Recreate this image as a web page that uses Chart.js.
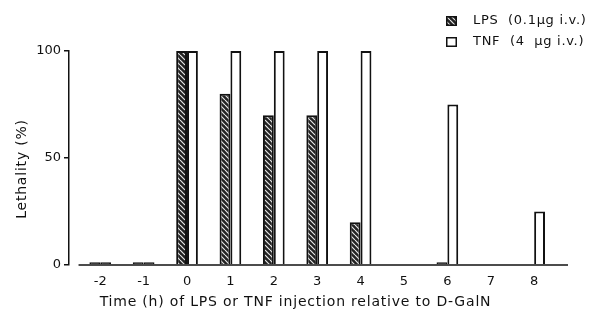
<!DOCTYPE html>
<html><head><meta charset="utf-8">
<script src="https://cdn.jsdelivr.net/npm/chart.js@4"></script>
<style>html,body{margin:0;padding:0;background:#fff}#wrap{width:590px;height:311px}</style>
</head><body><div id="wrap"><canvas id="c" width="590" height="311"></canvas></div>
<script>
const hours = [-2, -1, 0, 1, 2, 3, 4, 5, 6, 7, 8];
const lpsValues = [1.3, 1.3, 100, 80, 70, 70, 20, null, 1.3, null, null];
const tnfValues = [1.3, 1.3, 100, 100, 100, 100, 100, null, 75, null, 25];
const yTicks = [0, 50, 100];
const seriesLabels = ['LPS  (0.1µg i.v.)', 'TNF  (4  µg i.v.)'];
const xTitle = 'Time (h) of LPS or TNF injection relative to D-GalN';
const yTitle = 'Lethality (%)';

const FONT = '"DejaVu Sans", sans-serif';
const INK = '#111';
const canvas = document.getElementById('c');
const ctx = canvas.getContext('2d');

function makeHatch() {
  const s = 5;
  const t = document.createElement('canvas');
  t.width = s; t.height = s;
  const g = t.getContext('2d');
  g.fillStyle = '#222222';
  g.fillRect(0, 0, s, s);
  g.strokeStyle = '#e6e6e6';
  g.lineWidth = 1.2;
  for (const o of [-s, 0, s]) {
    g.beginPath(); g.moveTo(o, 0); g.lineTo(o + s, s); g.stroke();
  }
  return ctx.createPattern(t, 'repeat');
}
const fills = [makeHatch(), '#ffffff'];
// near-zero bars are printed as solid dark slivers on the baseline
const fillFor = i => c => (c.raw && c.raw.y !== null && c.raw.y < 2) ? INK : fills[i];

const deco = {
  id: 'deco',
  afterDraw(chart) {
    const c = chart.ctx, a = chart.chartArea, x = chart.scales.x, y = chart.scales.y;
    c.save();
    c.strokeStyle = INK; c.lineWidth = 1.5;
    const y0 = y.getPixelForValue(0);
    c.beginPath();
    c.moveTo(x.getPixelForValue(hours[0] - 0.5), y0);
    c.lineTo(a.right, y0);
    c.stroke();
    c.fillStyle = INK;
    c.font = '14px ' + FONT;
    c.letterSpacing = '0.8px';
    c.textAlign = 'center'; c.textBaseline = 'middle';
    c.fillText(xTitle, x.getPixelForValue(2.5), 302);
    c.save();
    c.translate(22, 169);
    c.rotate(-Math.PI / 2);
    c.fillText(yTitle, 0, 0);
    c.restore();
    const ds = chart.data.datasets;
    const bx = chart.width - 144, tx = chart.width - 117;
    const rows = [21, 42];
    c.font = '13px ' + FONT;
    c.letterSpacing = '0.7px';
    c.textAlign = 'left';
    ds.forEach((d, i) => {
      const cy = rows[i];
      c.fillStyle = fills[i];
      c.fillRect(bx, cy - 5, 11, 10);
      c.strokeStyle = INK; c.lineWidth = 1.5;
      c.strokeRect(bx + 0.75, cy - 4.25, 9.5, 8.5);
      c.fillStyle = INK;
      c.fillText(d.label, tx, cy);
    });
    c.restore();
  }
};

new Chart(ctx, {
  type: 'bar',
  data: {
    datasets: [
      {
        label: seriesLabels[0],
        data: hours.map((h, i) => ({ x: h, y: lpsValues[i] })),
        backgroundColor: fillFor(0), borderColor: INK, borderWidth: 2,
        borderSkipped: 'start', clip: false,
        categoryPercentage: 0.5, barPercentage: 1
      },
      {
        label: seriesLabels[1],
        data: hours.map((h, i) => ({ x: h, y: tnfValues[i] })),
        backgroundColor: fillFor(1), borderColor: INK, borderWidth: 2,
        borderSkipped: 'start', clip: false,
        categoryPercentage: 0.5, barPercentage: 1
      }
    ]
  },
  options: {
    responsive: false, animation: false, devicePixelRatio: 1,
    layout: { padding: { top: 51, right: 22, left: 0, bottom: 0 } },
    plugins: { legend: { display: false }, tooltip: { enabled: false } },
    scales: {
      x: {
        type: 'linear', offset: false,
        min: hours[0] - 0.72, max: hours[hours.length - 1] + 0.78,
        afterBuildTicks: s => { s.ticks = hours.map(v => ({ value: v })); },
        afterFit: s => { s.height = 46; },
        grid: { display: false, drawTicks: false },
        border: { display: false },
        ticks: { padding: 9, color: INK, font: { family: FONT, size: 13 }, callback: v => String(v) }
      },
      y: {
        min: 0, max: 100,
        afterBuildTicks: s => { s.ticks = yTicks.map(v => ({ value: v })); },
        afterFit: s => { s.width = 69; },
        grid: { drawOnChartArea: false, drawTicks: true, tickLength: 5, color: INK, lineWidth: 1.5 },
        border: { display: true, color: INK, width: 1.5 },
        ticks: { padding: 3, color: INK, font: { family: FONT, size: 13 } }
      }
    }
  },
  plugins: [deco]
});
</script>
</body></html>
